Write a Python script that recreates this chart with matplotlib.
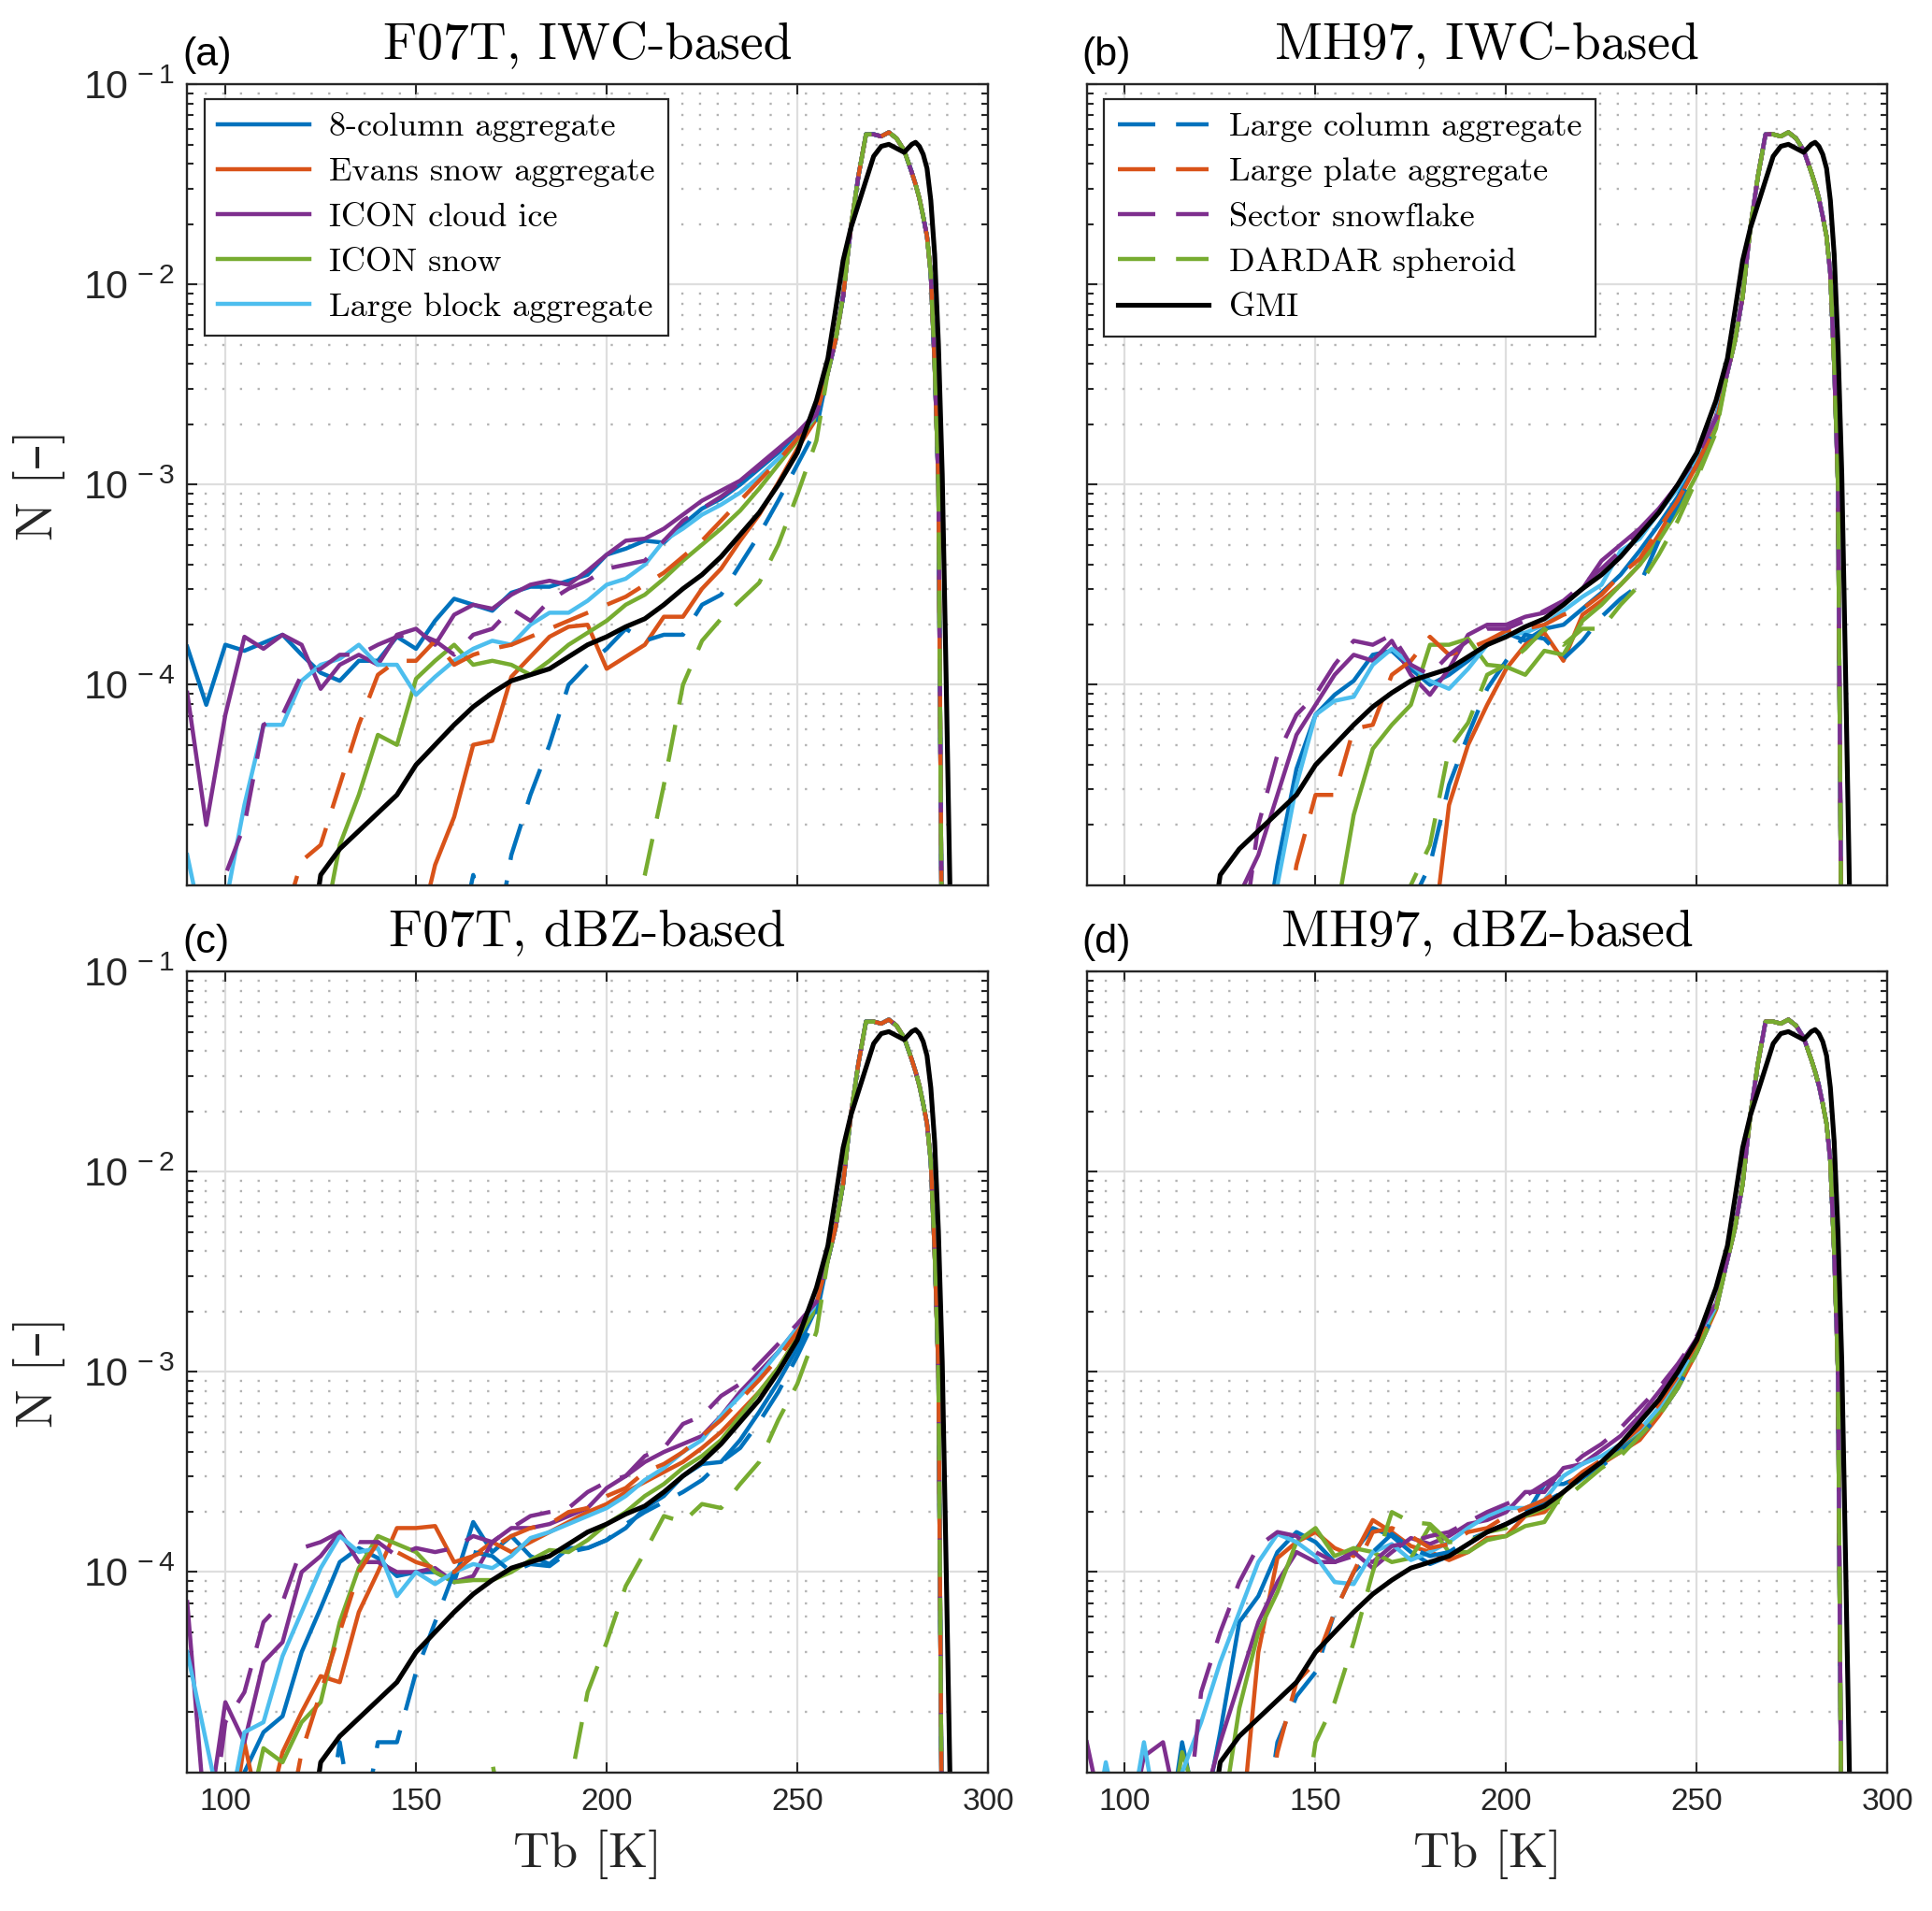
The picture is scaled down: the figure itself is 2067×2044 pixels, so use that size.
import numpy as np
import matplotlib
matplotlib.use('Agg')
import matplotlib.pyplot as plt
from matplotlib.ticker import FixedLocator, FuncFormatter, NullFormatter, NullLocator

plt.rcParams['font.family'] = ['Liberation Sans', 'DejaVu Sans']
plt.rcParams['mathtext.fontset'] = 'custom'
plt.rcParams['mathtext.rm'] = 'Liberation Sans'
plt.rcParams['mathtext.it'] = 'Liberation Sans:italic'
plt.rcParams['mathtext.bf'] = 'Liberation Sans:bold'
plt.rcParams['axes.unicode_minus'] = True

SERIF = ['cmr10', 'DejaVu Serif']
nan = np.nan

# ---------------- data: log10(N) ----------------
TB_LOW = list(range(90, 256, 5))          # 90 ... 255 K
TB_HIGH = [258, 260, 262, 264, 266, 268, 270, 272, 274, 276, 278, 280, 281,
           282, 283, 284, 285, 286, 287, 288, 289, 290, 291]

SIM_HIGH = [-2.44, -2.28, -2.06, -1.72, -1.46, -1.25, -1.25, -1.26, -1.24, -1.27,
            -1.33, -1.44, -1.50, -1.57, -1.66, -1.76, -1.95, -2.40, -3.00, -5.60,
            nan, nan, nan]
GMI_HIGH = [-2.37, -2.13, -1.88, -1.72, -1.60, -1.48, -1.36, -1.31, -1.30, -1.32,
            -1.34, -1.30, -1.29, -1.31, -1.35, -1.42, -1.58, -1.85, -2.30, -2.95,
            -3.95, -5.00, -6.00]
GMI_LOW = [nan] * 6 + [-5.60, -4.95, -4.82, -4.73, -4.64, -4.55, -4.40, -4.30, -4.20,
                       -4.11, -4.04, -3.98, -3.95, -3.92, -3.86, -3.80, -3.76, -3.71,
                       -3.67, -3.60, -3.52, -3.45, -3.36, -3.25, -3.14, -3.00, -2.84, -2.58]

# (a) F07T, IWC-based
a_col8 = [-3.81, -4.10, -3.80, -3.83, -3.79, -3.75, -3.85, -3.94, -3.98, -3.88, -3.88, -3.76,
          -3.82, -3.68, -3.57, -3.60, -3.63, -3.54, -3.51, -3.51, -3.48, -3.45, -3.35, -3.32,
          -3.28, -3.29, -3.20, -3.12, -3.07, -3.00, -2.92, -2.84, -2.76, -2.65]
a_evans = [nan] * 12 + [-5.30, -4.90, -4.66, -4.30, -4.28, -3.96, -3.86, -3.76, -3.71, -3.70,
                        -3.92, -3.86, -3.80, -3.66, -3.66, -3.52, -3.42, -3.28, -3.15, -2.99,
                        -2.82, -2.67]
a_iconice = [-4.04, -4.70, -4.15, -3.76, -3.82, -3.75, -3.80, -4.02, -3.90, -3.85, -3.90, -3.75,
             -3.72, -3.80, -3.65, -3.60, -3.62, -3.55, -3.50, -3.48, -3.50, -3.43, -3.35, -3.28,
             -3.27, -3.22, -3.15, -3.08, -3.03, -2.98, -2.90, -2.82, -2.74, -2.64]
a_iconsnow = [nan] * 7 + [-5.30, -4.80, -4.55, -4.25, -4.30, -3.97, -3.88, -3.80, -3.90, -3.88,
                          -3.90, -3.95, -3.88, -3.80, -3.74, -3.68, -3.60, -3.55, -3.47, -3.38,
                          -3.30, -3.22, -3.13, -3.02, -2.90, -2.78, -2.66]
a_block = [-4.85, -5.30, -5.10, -4.60, -4.20, -4.20, -3.98, -3.90, -3.87, -3.80, -3.90, -3.90,
           -4.05, -3.96, -3.88, -3.82, -3.78, -3.80, -3.70, -3.64, -3.64, -3.58, -3.50, -3.47,
           -3.40, -3.28, -3.22, -3.15, -3.10, -3.04, -2.96, -2.87, -2.77, -2.65]
a_lcol = [nan] * 14 + [-5.40, -4.95, -5.40, -4.85, -4.55, -4.30, -4.00, -3.90, -3.82, -3.72,
                       -3.78, -3.75, -3.75, -3.60, -3.55, -3.40, -3.25, -3.08, -2.90, -2.72]
a_lplate = [nan] * 4 + [-5.40, -5.20, -4.88, -4.80, -4.50, -4.20, -3.95, -3.88, -3.88, -3.78,
                        -3.90, -3.85, -3.82, -3.80, -3.76, -3.72, -3.68, -3.64, -3.60, -3.56,
                        -3.50, -3.44, -3.36, -3.28, -3.18, -3.08, -2.98, -2.88, -2.77, -2.65]
a_sector = [nan, -5.50, -4.95, -4.70, -4.20, -4.15, -3.95, -3.92, -3.85, -3.85, -3.80, -3.76,
            -3.74, -3.78, -3.85, -3.75, -3.72, -3.62, -3.68, -3.58, -3.52, -3.48, -3.42, -3.40,
            -3.38, -3.28, -3.18, -3.12, -3.06, -2.99, -2.91, -2.83, -2.75, -2.65]
a_dardar = [nan] * 22 + [-5.50, -5.30, -4.95, -4.50, -4.00, -3.78, -3.67, -3.58, -3.49, -3.30,
                         -3.05, -2.78]

# (b) MH97, IWC-based
b_col8 = [nan] * 9 + [-5.50, -4.90, -4.42, -4.15, -4.05, -3.98, -3.85, -3.83, -3.92, -4.00,
                      -3.95, -3.88, -3.80, -3.74, -3.78, -3.72, -3.70, -3.62, -3.54, -3.45,
                      -3.33, -3.20, -3.06, -2.88, -2.68]
b_evans = [nan] * 18 + [-5.40, -4.60, -4.30, -4.10, -3.92, -3.80, -3.74, -3.88, -3.65, -3.58,
                        -3.50, -3.40, -3.25, -3.08, -2.90, -2.70]
b_iconice = [nan] * 7 + [-5.50, -5.05, -4.85, -4.55, -4.25, -4.10, -3.95, -3.85, -3.88, -3.78,
                         -3.95, -4.05, -3.92, -3.75, -3.70, -3.70, -3.66, -3.64, -3.59, -3.52,
                         -3.38, -3.30, -3.22, -3.12, -3.00, -2.85, -2.66]
b_iconsnow = [nan] * 12 + [-5.40, -5.20, -4.65, -4.32, -4.20, -4.10, -3.80, -3.80, -3.77, -3.90,
                           -3.91, -3.95, -3.83, -3.85, -3.68, -3.60, -3.50, -3.40, -3.28, -3.13,
                           -2.95, -2.72]
b_block = [nan] * 9 + [-5.50, -5.00, -4.50, -4.15, -4.08, -4.06, -3.90, -3.82, -3.90, -3.98,
                       -4.02, -3.92, -3.80, -3.75, -3.74, -3.70, -3.63, -3.56, -3.50, -3.33,
                       -3.27, -3.14, -3.02, -2.86, -2.67]
b_lcol = [nan] * 16 + [-5.40, -5.10, -4.90, -4.50, -4.25, -4.02, -3.88, -3.75, -3.77, -3.87,
                       -3.78, -3.66, -3.57, -3.50, -3.28, -3.10, -2.90, -2.70]
b_lplate = [nan] * 10 + [-5.50, -4.90, -4.55, -4.55, -4.22, -4.20, -3.95, -3.88, -3.76, -3.85,
                         -3.82, -3.78, -3.73, -3.72, -3.70, -3.65, -3.62, -3.55, -3.45, -3.37,
                         -3.22, -3.08, -2.90, -2.70]
b_sector = [nan] * 8 + [-5.40, -4.70, -4.35, -4.15, -4.05, -3.90, -3.78, -3.80, -3.75, -3.90,
                        -3.95, -3.85, -3.78, -3.72, -3.72, -3.68, -3.63, -3.58, -3.50, -3.42,
                        -3.33, -3.23, -3.13, -3.00, -2.86, -2.67]
b_dardar = [nan] * 16 + [-5.40, -5.00, -4.80, -4.32, -4.19, -3.95, -3.90, -3.82, -3.72, -3.80,
                         -3.72, -3.72, -3.60, -3.50, -3.35, -3.18, -2.97, -2.74]

# (c) F07T, dBZ-based
c_col8 = [nan] * 2 + [-5.50, -5.00, -4.80, -4.72, -4.40, -4.18, -3.95, -3.88, -3.93, -4.02,
                      -4.00, -4.00, -4.05, -3.75, -3.90, -3.82, -3.92, -3.96, -3.88, -3.88,
                      -3.84, -3.78, -3.68, -3.62, -3.52, -3.46, -3.45, -3.34, -3.20, -3.05,
                      -2.88, -2.68]
c_evans = [nan] * 2 + [-5.50, -4.85, -5.30, -4.90, -4.70, -4.52, -4.55, -4.20, -4.00, -3.78,
                       -3.78, -3.77, -3.95, -3.92, -3.85, -3.90, -3.85, -3.80, -3.75, -3.70,
                       -3.66, -3.60, -3.55, -3.50, -3.45, -3.38, -3.30, -3.20, -3.10, -2.98,
                       -2.83, -2.67]
c_iconice = [-4.15, -5.30, -4.65, -4.85, -4.45, -4.35, -4.00, -3.92, -3.80, -3.95, -3.95, -4.00,
             -4.00, -3.98, -4.05, -4.02, -3.85, -3.78, -3.78, -3.76, -3.72, -3.68, -3.58, -3.52,
             -3.45, -3.40, -3.36, -3.32, -3.22, -3.10, -3.00, -2.90, -2.78, -2.66]
c_iconsnow = [nan] * 3 + [-5.30, -4.88, -4.95, -4.75, -4.65, -4.25, -3.98, -3.82, -3.86, -3.90,
                          -4.00, -4.05, -4.04, -4.04, -4.00, -3.94, -3.89, -3.90, -3.84, -3.76,
                          -3.70, -3.62, -3.56, -3.48, -3.42, -3.34, -3.22, -3.10, -2.98, -2.83,
                          -2.68]
c_block = [-4.40, -4.85, -5.30, -4.80, -4.75, -4.42, -4.20, -3.98, -3.82, -3.90, -3.88, -4.12,
           -4.00, -4.06, -4.00, -3.96, -3.98, -3.92, -3.83, -3.80, -3.76, -3.72, -3.68, -3.62,
           -3.54, -3.48, -3.40, -3.34, -3.22, -3.12, -3.02, -2.90, -2.78, -2.66]
c_lcol = [nan] * 7 + [-5.50, -4.85, -5.40, -4.85, -4.85, -4.50, -4.25, -4.00, -3.90, -3.92,
                      -4.00, -3.96, -3.97, -3.90, -3.88, -3.84, -3.76, -3.70, -3.65, -3.60,
                      -3.54, -3.45, -3.38, -3.25, -3.10, -2.92, -2.72]
c_lplate = [nan] * 5 + [-5.40, -4.90, -4.60, -4.30, -4.00, -3.85, -3.90, -3.95, -3.98, -4.00,
                        -3.92, -3.88, -3.82, -3.78, -3.76, -3.70, -3.68, -3.62, -3.58, -3.50,
                        -3.46, -3.40, -3.32, -3.24, -3.14, -3.04, -2.93, -2.80, -2.66]
c_sector = [nan, -5.50, -4.75, -4.60, -4.25, -4.15, -3.88, -3.85, -3.80, -3.85, -3.85, -3.92,
            -3.88, -3.90, -3.88, -3.82, -3.85, -3.78, -3.72, -3.70, -3.68, -3.60, -3.55, -3.52,
            -3.42, -3.38, -3.26, -3.22, -3.12, -3.06, -2.96, -2.86, -2.76, -2.65]
c_dardar = [nan] * 15 + [-5.50, -4.95, -5.50, nan, -5.50, -5.10, -4.60, -4.35, -4.07, -3.90,
                         -3.72, -3.75, -3.66, -3.68, -3.56, -3.45, -3.24, -3.06, -2.80]

# (d) MH97, dBZ-based
d_col8 = [nan] * 4 + [-5.50, -4.85, -5.30, -4.80, -4.25, -4.12, -3.90, -3.80, -3.85, -3.95,
                      -3.90, -3.78, -3.82, -3.90, -3.96, -3.92, -3.86, -3.80, -3.76, -3.72,
                      -3.56, -3.56, -3.52, -3.46, -3.39, -3.30, -3.20, -3.06, -2.88, -2.68]
d_evans = [nan] * 8 + [-5.40, -4.40, -3.93, -3.85, -3.80, -3.88, -3.92, -3.74, -3.80, -3.87,
                       -3.90, -3.94, -3.90, -3.83, -3.82, -3.72, -3.70, -3.60, -3.52, -3.46,
                       -3.40, -3.34, -3.22, -3.08, -2.90, -2.69]
d_iconice = [-4.85, -5.30, -5.40, -4.92, -4.85, -5.30, -5.20, -4.85, -4.55, -4.25, -4.05, -3.90,
             -3.95, -3.95, -3.90, -3.98, -3.90, -3.83, -3.86, -3.82, -3.76, -3.74, -3.70, -3.60,
             -3.60, -3.48, -3.46, -3.39, -3.32, -3.22, -3.10, -2.98, -2.83, -2.66]
d_iconsnow = [nan] * 4 + [-5.50, -4.90, -5.20, -5.30, -4.68, -4.30, -4.10, -3.85, -3.78, -3.92,
                          -3.88, -3.90, -3.95, -3.93, -3.77, -3.90, -3.90, -3.84, -3.82, -3.77,
                          -3.75, -3.60, -3.53, -3.45, -3.40, -3.31, -3.20, -3.06, -2.88, -2.68]
d_block = [-5.50, -4.95, -5.40, -4.85, -5.40, -5.00, -4.75, -4.45, -4.20, -3.95, -3.81, -3.85,
           -3.92, -4.05, -4.06, -3.90, -3.86, -3.94, -3.90, -3.85, -3.78, -3.72, -3.68, -3.68,
           -3.64, -3.52, -3.46, -3.42, -3.36, -3.29, -3.18, -3.03, -2.86, -2.67]
d_lcol = [nan] * 9 + [-5.50, -4.85, -4.62, -4.50, -4.20, -4.00, -3.90, -3.81, -3.88, -3.92,
                      -3.90, -3.84, -3.80, -3.76, -3.70, -3.65, -3.60, -3.53, -3.47, -3.40,
                      -3.32, -3.22, -3.08, -2.90, -2.69]
d_lplate = [nan] * 9 + [-5.50, -4.90, -4.55, -4.45, -4.20, -4.00, -3.80, -3.78, -3.82, -3.88,
                        -3.86, -3.80, -3.78, -3.72, -3.68, -3.64, -3.58, -3.50, -3.44, -3.36,
                        -3.28, -3.16, -3.02, -2.86, -2.68]
d_sector = [nan] * 5 + [-5.50, -4.60, -4.30, -4.05, -3.87, -3.80, -3.82, -3.90, -3.95, -3.92,
                        -3.95, -3.87, -3.85, -3.82, -3.80, -3.75, -3.70, -3.66, -3.62, -3.56,
                        -3.50, -3.42, -3.36, -3.28, -3.18, -3.08, -2.96, -2.82, -2.66]
d_dardar = [nan] * 11 + [-5.50, -4.85, -4.65, -4.35, -4.00, -3.70, -3.75, -3.76, -3.85, -3.85,
                         -3.80, -3.78, -3.72, -3.68, -3.64, -3.56, -3.48, -3.42, -3.32, -3.22,
                         -3.08, -2.90, -2.69]

SOLID_NAMES = ['8-column aggregate', 'Evans snow aggregate', 'ICON cloud ice',
               'ICON snow', 'Large block aggregate']
DASHED_NAMES = ['Large column aggregate', 'Large plate aggregate', 'Sector snowflake',
                'DARDAR spheroid']
SOLID_COLORS = ['#0072BD', '#D95319', '#7E2F8E', '#77AC30', '#4DBEEE']
DASHED_COLORS = ['#0072BD', '#D95319', '#7E2F8E', '#77AC30']

PANELS = [
    ('(a)', 'F07T, IWC-based', [a_col8, a_evans, a_iconice, a_iconsnow, a_block],
     [a_lcol, a_lplate, a_sector, a_dardar]),
    ('(b)', 'MH97, IWC-based', [b_col8, b_evans, b_iconice, b_iconsnow, b_block],
     [b_lcol, b_lplate, b_sector, b_dardar]),
    ('(c)', 'F07T, dBZ-based', [c_col8, c_evans, c_iconice, c_iconsnow, c_block],
     [c_lcol, c_lplate, c_sector, c_dardar]),
    ('(d)', 'MH97, dBZ-based', [d_col8, d_evans, d_iconice, d_iconsnow, d_block],
     [d_lcol, d_lplate, d_sector, d_dardar]),
]

# ---------------- figure ----------------
fig = plt.figure(figsize=(20.67, 20.44), dpi=100)
W, H = 0.4145, 0.4190
POS = [[0.0969, 0.5369, W, H], [0.5625, 0.5369, W, H],
       [0.0969, 0.0726, W, H], [0.5625, 0.0726, W, H]]
AX_COL = '#262626'
LW = 3.2
DASH = (0, (9.0, 5.0))

x_all = np.array(TB_LOW + TB_HIGH, dtype=float)
minor_y = [k * 10.0 ** e for e in range(-5, -1) for k in range(2, 10)]

for i, (plab, title, solids, dashes) in enumerate(PANELS):
    ax = fig.add_axes(POS[i])
    ax.set_yscale('log')
    solid_handles, dashed_handles = [], []
    for vals, col, name in zip(solids, SOLID_COLORS, SOLID_NAMES):
        assert len(vals) == len(TB_LOW), (title, name, len(vals))
        y = 10.0 ** np.array(vals + SIM_HIGH, dtype=float)
        h, = ax.plot(x_all, y, color=col, lw=LW, label=name)
        solid_handles.append(h)
    for vals, col, name in zip(dashes, DASHED_COLORS, DASHED_NAMES):
        assert len(vals) == len(TB_LOW), (title, name, len(vals))
        y = 10.0 ** np.array(vals + SIM_HIGH, dtype=float)
        h, = ax.plot(x_all, y, color=col, lw=LW, ls=DASH, label=name)
        dashed_handles.append(h)
    assert len(GMI_LOW) == len(TB_LOW)
    gmi, = ax.plot(x_all, 10.0 ** np.array(GMI_LOW + GMI_HIGH, dtype=float),
                   color='black', lw=3.7, label='GMI')

    ax.set_xlim(90, 300)
    ax.set_ylim(1e-5, 1e-1)
    ax.xaxis.set_major_locator(FixedLocator([100, 150, 200, 250, 300]))
    ax.xaxis.set_minor_locator(NullLocator())
    ax.yaxis.set_major_locator(FixedLocator([1e-4, 1e-3, 1e-2, 1e-1]))
    ax.yaxis.set_minor_locator(FixedLocator(minor_y))
    ax.yaxis.set_minor_formatter(NullFormatter())
    ax.yaxis.set_major_formatter(FuncFormatter(
        lambda v, p: r'$10^{\,%d}$' % int(round(np.log10(v)))))

    ax.grid(which='major', axis='both', color='#dedede', lw=1.6, ls='-')
    ax.yaxis.grid(which='minor', color='#b3b3b3', lw=1.7, ls=(0, (1, 7)))
    ax.set_axisbelow(True)

    for sp in ax.spines.values():
        sp.set_linewidth(1.7)
        sp.set_color(AX_COL)
    ax.tick_params(which='both', direction='in', top=True, right=True,
                   color=AX_COL, width=1.5, labelcolor=AX_COL)
    ax.tick_params(which='major', length=8)
    ax.tick_params(which='minor', length=5)
    ax.tick_params(axis='x', labelsize=24, pad=12)
    ax.tick_params(axis='y', labelsize=31, pad=10)

    if i < 2:
        ax.tick_params(labelbottom=False)
    else:
        ax.set_xlabel('Tb [K]', fontfamily=SERIF, fontsize=39, color=AX_COL)
        ax.xaxis.set_label_coords(0.5, -0.072)
    if i % 2 == 1:
        ax.tick_params(labelleft=False)
    else:
        ax.set_ylabel('N [\u2013]', fontfamily=SERIF, fontsize=40, color=AX_COL)
        ax.yaxis.set_label_coords(-0.152, 0.5)

    ax.set_title(title, fontfamily=SERIF, fontsize=40, pad=20)
    ax.text(-0.006, 1.024, plab, transform=ax.transAxes, fontsize=31,
            ha='left', va='baseline')

    if i in (0, 1):
        if i == 0:
            hs = solid_handles
        else:
            hs = dashed_handles + [gmi]
        leg = ax.legend(handles=hs, loc='upper left', bbox_to_anchor=(0.0215, 0.982),
                        prop={'family': SERIF, 'size': 26}, frameon=True,
                        fancybox=False, edgecolor=AX_COL, framealpha=1,
                        borderpad=0.4, handlelength=2.7, handletextpad=0.6,
                        labelspacing=0.44, borderaxespad=0)
        leg.get_frame().set_linewidth(1.6)

fig.savefig('out.png', dpi=100)
